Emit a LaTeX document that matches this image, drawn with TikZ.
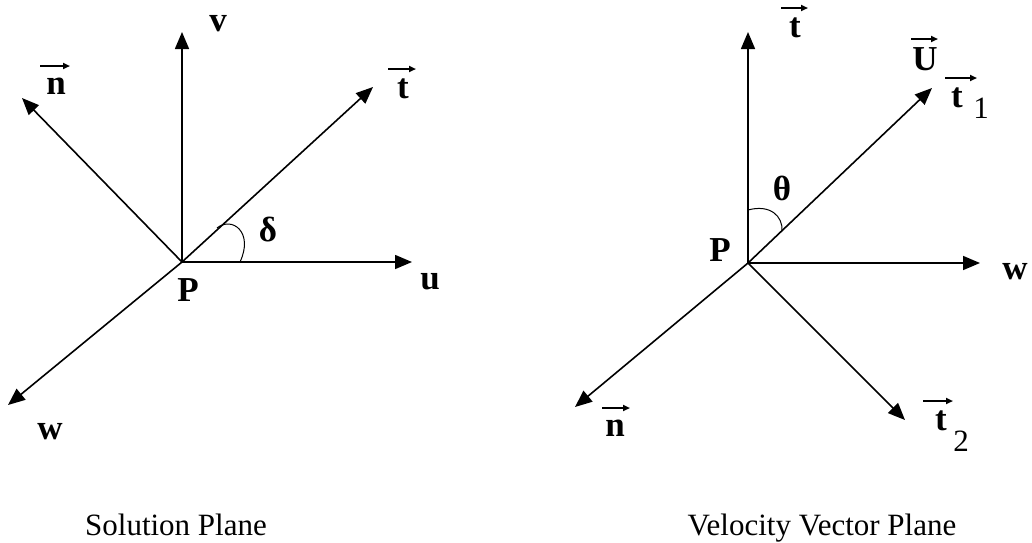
\documentclass[tikz,border=0pt]{standalone}
\usepackage{fontspec}
\setmainfont{Liberation Serif}
\usetikzlibrary{arrows.meta}

\tikzset{
    vec/.style={line width=1.6pt, -{Triangle[length=17pt, width=14pt]}},
    overarr/.style={line width=2.2pt, -{Triangle[length=7pt, width=6pt]}},
    lab/.style={font=\fontsize{35}{40}\selectfont\bfseries, inner sep=0pt},
    sublab/.style={font=\fontsize{31}{36}\selectfont, inner sep=0pt},
    caption/.style={font=\fontsize{31}{37}\selectfont, inner sep=0pt, anchor=base}
}
% arrow bar over a label node
\newcommand{\overvec}[3]{%
    \draw[overarr] ([shift={(#2pt,20pt)}]#1.center) -- ([shift={(#3pt,20pt)}]#1.center);}

\begin{document}
\begin{tikzpicture}[x=1pt, y=-1pt]
\useasboundingbox (0,0) rectangle (1032,542);

% -------- Solution plane ------------------------------------
\coordinate (P1) at (182,262);
\coordinate (v1) at (182,32);
\coordinate (n1) at (22,98);
\coordinate (t1) at (373,87);
\coordinate (u1) at (412,262);
\coordinate (w1) at (8,405);

\draw[vec] (P1) -- (v1);
\draw[vec] (P1) -- (n1);
\draw[vec] (P1) -- (t1);
\draw[vec] (P1) -- (u1);
\draw[vec] (P1) -- (w1);

% angle delta between u and t
\draw[line width=1pt] (217,228) .. controls (232,216) and (254,232) .. (240,262);

\node[lab] (vL)  at (218,24)  {v};
\node[lab] (nL)  at (56,86)   {n};
\node[lab] (tL)  at (403,89)  {t};
\node[lab] (uL)  at (430,282) {u};
\node[lab] (wL)  at (50,432)  {w};
\node[lab] (PL1) at (188,290) {P};
\node[lab] (dL)  at (268,230) {δ};
\overvec{nL}{-16}{14}
\overvec{tL}{-15}{13}

\node[caption] (cap1) at (176,535) {Solution Plane};

% -------- Velocity vector plane -----------------------------
\coordinate (P2) at (748,263);
\coordinate (t2) at (748,32);
\coordinate (U2) at (932,88);
\coordinate (w2) at (980,263);
\coordinate (n2) at (575,407);
\coordinate (s2) at (905,420);

\draw[vec] (P2) -- (t2);
\draw[vec] (P2) -- (U2);
\draw[vec] (P2) -- (w2);
\draw[vec] (P2) -- (n2);
\draw[vec] (P2) -- (s2);

% angle theta between t and U
\draw[line width=1pt] (748,210) .. controls (770,204) and (783,216) .. (782,231);

\node[lab] (tR)  at (795,28)  {t};
\node[lab] (UR)  at (925,59)  {U};
\node[lab] (t1R) at (957,98)  {t};
\node[sublab] (one) at (981,108) {1};
\node[lab] (wR)  at (1015,272) {w};
\node[lab] (nR)  at (615,428) {n};
\node[lab] (t2R) at (941,421) {t};
\node[sublab] (two) at (961,441) {2};
\node[lab] (PL2) at (720,250) {P};
\node[lab] (thL) at (782,188) {θ};
\overvec{tR}{-14}{13}
\overvec{UR}{-14}{13}
\overvec{t1R}{-12}{20}
\overvec{nR}{-13}{15}
\overvec{t2R}{-18}{12}

\node[caption] (cap2) at (822,535) {Velocity Vector Plane};

\end{tikzpicture}
\end{document}
